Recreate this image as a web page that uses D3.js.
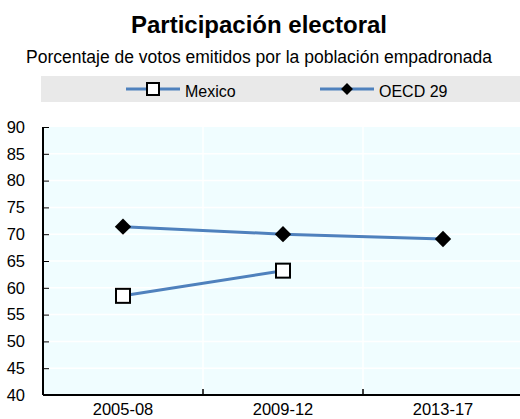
<!DOCTYPE html>
<meta charset="utf-8">
<style>
body { margin: 0; background: #fff; }
text { font-family: "Liberation Sans", Arial, sans-serif; fill: #000; }
</style>
<body>
<script src="https://d3js.org/d3.v7.min.js"></script>
<script>
// data
var periods = ["2005-08", "2009-12", "2013-17"];
var mexico = [58.5, 63.2, null];
var oecd = [71.4, 70.0, 69.1];
var yTicks = [40, 45, 50, 55, 60, 65, 70, 75, 80, 85, 90];

var W = 520, H = 419;
var margin = {top: 127, right: -3, bottom: 24, left: 43};
var width = W - margin.left - margin.right,
    height = H - margin.top - margin.bottom;

var svg = d3.select("body").append("svg")
    .attr("width", W).attr("height", H);

// titles
svg.append("text").attr("x", 259).attr("y", 33).attr("text-anchor", "middle")
    .style("font-size", "24px").style("font-weight", "bold")
    .text("Participación electoral");
svg.append("text").attr("x", 259).attr("y", 63).attr("text-anchor", "middle")
    .style("font-size", "17.5px")
    .text("Porcentaje de votos emitidos por la población empadronada");

// legend
var lg = svg.append("g");
lg.append("rect").attr("x", 41).attr("y", 76).attr("width", 479).attr("height", 26).attr("fill", "#e9e9e9");
var legendItems = [{name: "Mexico", x: 126, shape: "square"}, {name: "OECD 29", x: 320, shape: "diamond"}];
legendItems.forEach(function(d) {
  lg.append("line").attr("x1", d.x).attr("x2", d.x + 54).attr("y1", 89).attr("y2", 89)
      .attr("stroke", "#4f81bd").attr("stroke-width", 3);
  if (d.shape == "square") {
    lg.append("rect").attr("x", d.x + 21).attr("y", 83).attr("width", 12).attr("height", 12)
        .attr("fill", "#fff").attr("stroke", "#000").attr("stroke-width", 2);
  } else {
    lg.append("path").attr("transform", "translate(" + (d.x + 27) + ",89)")
        .attr("d", d3.symbol().type(d3.symbolDiamond2).size(90)).attr("fill", "#000");
  }
  lg.append("text").attr("x", d.x + 59).attr("y", 97).style("font-size", "16px").text(d.name);
});

var g = svg.append("g").attr("transform", "translate(" + margin.left + "," + margin.top + ")");

var x = d3.scaleBand().domain(periods).range([0, width]);
var y = d3.scaleLinear().domain([40, 90]).range([height, 0]);

g.append("rect").attr("width", width).attr("height", height).attr("fill", "#f0fdff");

// grid
g.selectAll(".hgrid").data(yTicks.slice(1, -1)).enter().append("line")
    .attr("x1", 0).attr("x2", width).attr("y1", y).attr("y2", y)
    .attr("stroke", "#fff").attr("stroke-width", 1.5);
g.selectAll(".vgrid").data(periods.slice(1)).enter().append("line")
    .attr("x1", function(d) { return x(d); }).attr("x2", function(d) { return x(d); })
    .attr("y1", 0).attr("y2", height)
    .attr("stroke", "#fff").attr("stroke-width", 1.5);

// axes
var yAxis = d3.axisLeft(y).tickValues(yTicks).tickSize(-6).tickPadding(18);
var gY = g.append("g").call(yAxis);
gY.select(".domain").remove();
gY.selectAll("line").attr("stroke", "#000").attr("stroke-width", 1);
gY.selectAll("text").style("font-size", "16.5px");

var gX = g.append("g").attr("transform", "translate(0," + height + ")")
    .call(d3.axisBottom(x).tickSize(0).tickPadding(8));
gX.select(".domain").remove();
gX.selectAll("text").style("font-size", "16.5px");
g.selectAll(".xtick").data(periods.slice(1)).enter().append("line")
    .attr("x1", function(d) { return x(d); }).attr("x2", function(d) { return x(d); })
    .attr("y1", height).attr("y2", height - 6).attr("stroke", "#000").attr("stroke-width", 1.5);

g.append("line").attr("x1", 0).attr("x2", 0).attr("y1", 0).attr("y2", height)
    .attr("stroke", "#000").attr("stroke-width", 2);
g.append("line").attr("x1", 0).attr("x2", width).attr("y1", height).attr("y2", height)
    .attr("stroke", "#000").attr("stroke-width", 2);

// lines
var line = d3.line()
    .defined(function(d) { return d[1] != null; })
    .x(function(d) { return x(d[0]) + x.bandwidth() / 2; })
    .y(function(d) { return y(d[1]); });

[oecd, mexico].forEach(function(s) {
  g.append("path").attr("d", line(d3.zip(periods, s)))
      .attr("fill", "none").attr("stroke", "#4f81bd").attr("stroke-width", 3);
});

g.selectAll(".mx").data(d3.zip(periods, mexico).filter(function(d) { return d[1] != null; }))
  .enter().append("rect")
    .attr("x", function(d) { return x(d[0]) + x.bandwidth() / 2 - 7; })
    .attr("y", function(d) { return y(d[1]) - 7; })
    .attr("width", 14).attr("height", 14)
    .attr("fill", "#fff").attr("stroke", "#000").attr("stroke-width", 2);

g.selectAll(".oe").data(d3.zip(periods, oecd)).enter().append("path")
    .attr("transform", function(d) { return "translate(" + (x(d[0]) + x.bandwidth() / 2) + "," + y(d[1]) + ")"; })
    .attr("d", d3.symbol().type(d3.symbolDiamond2).size(170)).attr("fill", "#000");
</script>
</body>
